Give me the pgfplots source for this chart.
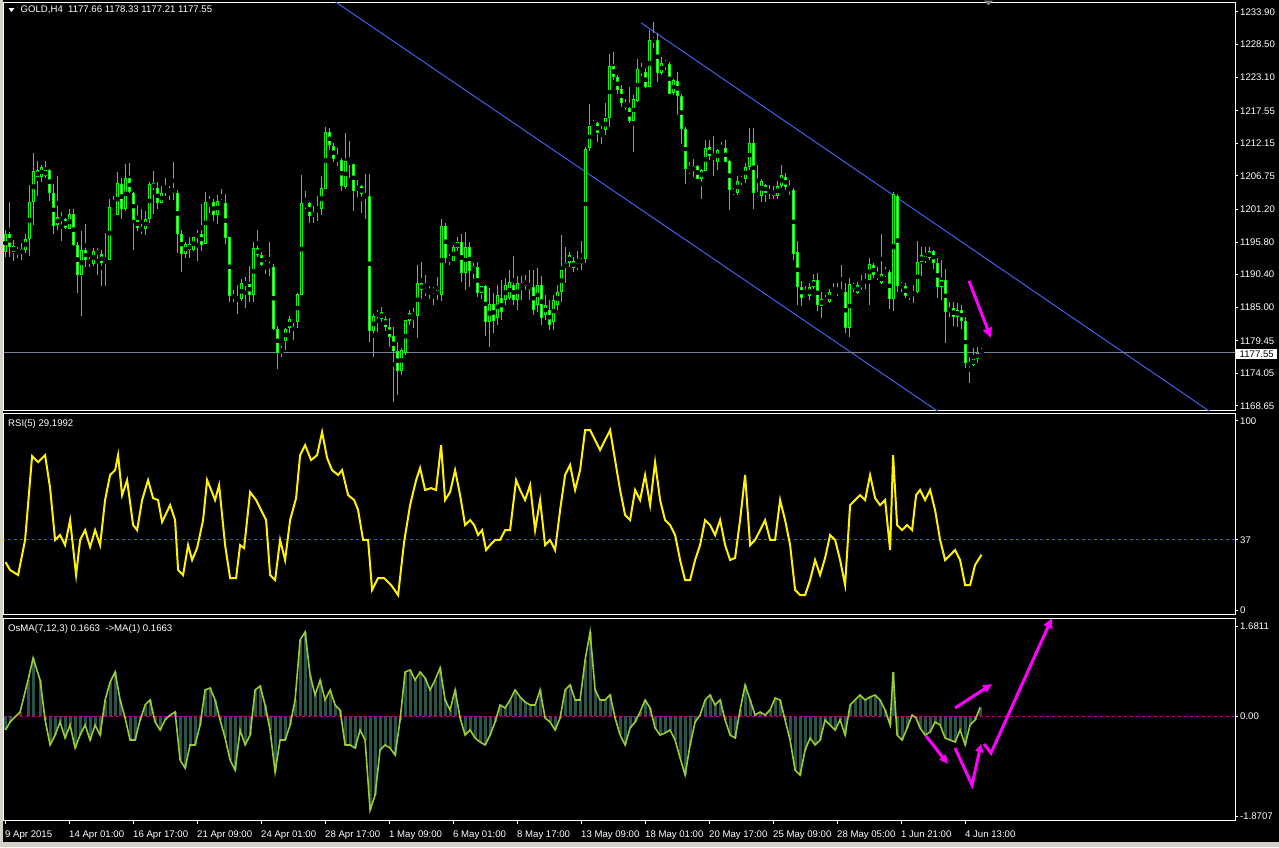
\documentclass[border=0pt]{standalone}
\usepackage{fontspec}
\setmainfont{Liberation Sans}
\usepackage{pgfplots}
\usepackage{pgfplotstable}
\pgfplotsset{compat=1.18}
\usetikzlibrary{arrows.meta}
\definecolor{cgreen}{RGB}{0,255,0}
\definecolor{chist}{RGB}{40,84,72}
\definecolor{cosma}{RGB}{154,205,50}
\definecolor{cbid}{RGB}{122,134,150}
\definecolor{cchan}{RGB}{65,95,235}
\definecolor{clvl}{RGB}{70,70,255}
\definecolor{czero}{RGB}{170,0,170}
\definecolor{cmag}{RGB}{255,0,255}
\definecolor{cframe}{RGB}{212,208,200}
\newcommand\mt{\fontsize{9.6}{11}\selectfont}

\pgfplotstableread{
i o h l c
0 1194.2 1197.8 1193.4 1197.1
1 1197.2 1202.4 1193.3 1195.0
2 1195.1 1196.1 1192.6 1194.2
3 1194.4 1195.0 1193.2 1194.2
4 1193.8 1195.6 1192.9 1194.6
5 1194.5 1197.2 1194.0 1196.3
6 1196.3 1205.3 1193.5 1202.5
7 1202.5 1210.5 1198.7 1207.5
8 1206.5 1209.2 1203.4 1207.7
9 1206.6 1208.6 1205.8 1208.2
10 1207.7 1209.2 1206.4 1206.7
11 1207.7 1207.9 1202.6 1203.9
12 1203.9 1205.4 1197.1 1198.4
13 1198.6 1206.7 1197.8 1200.0
14 1200.0 1200.7 1196.0 1199.3
15 1199.6 1199.8 1198.0 1198.2
16 1198.0 1201.3 1198.0 1200.4
17 1200.4 1201.3 1195.1 1195.3
18 1195.4 1195.8 1187.3 1190.4
19 1190.4 1197.6 1183.6 1194.4
20 1194.4 1198.8 1191.7 1192.9
21 1193.0 1193.4 1191.6 1192.3
22 1192.2 1194.8 1191.9 1194.3
23 1194.4 1194.8 1190.4 1193.7
24 1193.8 1194.5 1188.6 1192.3
25 1192.3 1197.3 1188.6 1192.9
26 1192.9 1202.9 1192.8 1201.6
27 1201.6 1203.4 1201.5 1202.2
28 1200.3 1207.4 1200.3 1205.5
29 1205.5 1206.4 1199.6 1201.2
30 1201.2 1208.7 1201.0 1206.4
31 1206.4 1208.9 1204.0 1204.1
32 1204.0 1204.1 1194.4 1199.5
33 1199.5 1201.9 1197.7 1198.1
34 1198.0 1201.2 1197.1 1197.9
35 1197.9 1200.9 1197.0 1199.7
36 1199.7 1205.8 1199.0 1205.5
37 1205.5 1207.6 1200.5 1204.7
38 1204.7 1205.8 1201.2 1202.2
39 1202.2 1205.0 1202.2 1203.9
40 1204.2 1206.4 1203.4 1204.4
41 1204.1 1205.1 1202.7 1204.7
42 1204.7 1209.1 1202.8 1204.0
43 1204.0 1204.5 1194.0 1197.1
44 1197.1 1197.8 1190.9 1193.8
45 1193.8 1195.8 1193.1 1195.5
46 1195.4 1196.7 1193.1 1194.5
47 1194.5 1196.7 1194.3 1196.6
48 1196.6 1197.8 1192.7 1197.2
49 1197.2 1202.1 1194.3 1195.4
50 1195.5 1204.1 1195.5 1202.5
51 1202.3 1203.5 1200.6 1202.7
52 1202.4 1202.9 1199.3 1200.3
53 1200.3 1203.6 1198.8 1202.6
54 1202.6 1204.6 1202.1 1202.2
55 1202.2 1203.8 1195.5 1196.5
56 1196.6 1196.7 1185.8 1186.8
57 1186.9 1187.9 1185.8 1186.6
58 1186.6 1188.7 1183.9 1186.3
59 1186.3 1189.7 1186.1 1189.0
60 1189.0 1190.0 1184.9 1188.9
61 1188.9 1191.8 1185.8 1187.1
62 1187.1 1195.8 1185.9 1194.8
63 1194.8 1197.8 1193.4 1193.6
64 1193.6 1194.2 1191.8 1192.0
65 1192.3 1192.8 1190.5 1192.1
66 1192.1 1195.8 1190.1 1191.6
67 1191.6 1192.2 1181.2 1181.4
68 1181.4 1181.9 1174.8 1177.5
69 1177.5 1178.6 1176.8 1178.1
70 1179.5 1181.5 1177.9 1181.4
71 1181.5 1183.5 1180.8 1183.0
72 1182.5 1183.3 1179.5 1183.1
73 1182.5 1187.4 1181.5 1187.2
74 1187.0 1206.9 1187.0 1202.2
75 1202.2 1204.3 1201.3 1201.7
76 1202.2 1202.4 1198.9 1200.2
77 1200.0 1201.7 1199.0 1200.7
78 1200.7 1203.4 1199.3 1201.4
79 1201.3 1206.7 1200.2 1204.7
80 1204.6 1214.9 1204.6 1214.0
81 1214.0 1214.7 1211.1 1211.8
82 1211.7 1212.2 1209.0 1209.5
83 1209.5 1211.4 1208.4 1209.4
84 1209.4 1209.7 1204.2 1205.0
85 1205.0 1213.9 1204.6 1209.2
86 1209.2 1212.5 1206.4 1208.7
87 1208.7 1208.8 1201.0 1204.2
88 1204.6 1206.1 1203.2 1204.9
89 1205.0 1205.3 1200.6 1203.7
90 1203.7 1207.1 1199.6 1203.3
91 1203.4 1207.1 1179.3 1181.0
92 1181.0 1183.9 1176.7 1183.6
93 1183.5 1184.6 1180.9 1184.1
94 1184.2 1185.1 1182.5 1183.0
95 1183.1 1183.5 1181.1 1181.8
96 1181.8 1183.2 1178.5 1180.1
97 1180.2 1181.7 1169.4 1177.7
98 1177.8 1179.3 1170.4 1174.5
99 1174.5 1178.3 1173.7 1177.9
100 1177.5 1182.9 1177.1 1182.9
101 1182.8 1184.6 1182.1 1184.1
102 1184.1 1184.8 1181.6 1183.5
103 1183.5 1192.0 1180.0 1189.0
104 1189.0 1192.5 1186.4 1187.8
105 1187.8 1190.4 1186.8 1187.6
106 1187.6 1188.5 1186.4 1187.8
107 1187.8 1188.3 1185.3 1187.6
108 1187.0 1190.0 1186.2 1187.8
109 1187.0 1199.6 1186.0 1198.5
110 1198.5 1199.0 1192.3 1193.2
111 1192.8 1193.8 1192.0 1193.3
112 1192.7 1195.3 1192.6 1195.0
113 1194.8 1196.7 1194.4 1195.8
114 1195.8 1197.1 1189.1 1190.7
115 1190.7 1197.5 1187.9 1195.0
116 1195.0 1195.8 1188.3 1191.0
117 1191.0 1192.3 1189.6 1191.8
118 1191.6 1192.5 1186.7 1187.3
119 1187.3 1188.6 1186.4 1188.6
120 1188.6 1188.7 1180.3 1182.5
121 1182.5 1188.2 1178.5 1185.5
122 1185.5 1187.4 1180.8 1182.8
123 1183.2 1188.7 1182.1 1187.0
124 1186.5 1189.5 1182.9 1184.2
125 1186.2 1189.9 1185.4 1188.7
126 1186.5 1191.2 1186.2 1189.2
127 1188.7 1193.5 1185.4 1186.2
128 1186.2 1190.2 1184.6 1189.0
129 1189.0 1190.2 1186.2 1188.2
130 1188.5 1190.4 1187.9 1189.4
131 1188.7 1191.2 1186.2 1187.9
132 1188.4 1191.2 1183.7 1184.6
133 1185.4 1191.5 1184.2 1188.7
134 1188.7 1190.2 1182.1 1183.2
135 1183.7 1187.0 1182.9 1185.4
136 1184.6 1186.2 1181.2 1182.1
137 1182.6 1187.0 1181.2 1186.2
138 1185.4 1188.7 1184.6 1187.5
139 1187.6 1197.0 1185.8 1191.2
140 1191.5 1195.0 1189.0 1192.3
141 1192.3 1194.2 1191.7 1193.7
142 1192.6 1193.4 1190.9 1191.5
143 1191.5 1194.3 1191.1 1192.3
144 1192.2 1196.0 1191.1 1193.0
145 1193.0 1211.6 1192.4 1211.2
146 1211.3 1218.7 1210.9 1215.1
147 1215.0 1216.0 1214.9 1215.5
148 1215.5 1215.7 1212.4 1213.8
149 1213.7 1215.0 1212.1 1214.4
150 1214.3 1218.9 1213.5 1216.3
151 1216.3 1227.0 1214.9 1225.0
152 1225.0 1227.2 1222.6 1223.1
153 1223.1 1223.5 1220.3 1220.9
154 1221.1 1221.8 1218.2 1218.9
155 1218.9 1219.5 1217.7 1218.0
156 1218.0 1221.5 1215.5 1215.9
157 1215.9 1220.1 1210.8 1219.5
158 1219.2 1226.1 1219.0 1224.4
159 1224.4 1225.5 1223.3 1223.9
160 1223.9 1224.6 1221.3 1221.5
161 1221.5 1230.9 1221.5 1229.3
162 1229.3 1232.3 1227.9 1229.1
163 1229.2 1230.4 1222.3 1223.8
164 1223.8 1226.4 1223.5 1225.5
165 1225.5 1226.0 1224.3 1225.2
166 1225.3 1225.6 1220.3 1220.4
167 1220.4 1222.8 1220.2 1222.6
168 1222.5 1223.9 1216.9 1220.0
169 1220.0 1220.3 1212.1 1214.5
170 1214.5 1214.8 1205.4 1207.9
171 1207.9 1209.1 1207.1 1207.5
172 1207.5 1209.5 1206.6 1208.4
173 1208.4 1208.5 1206.3 1206.3
174 1206.3 1207.9 1202.9 1207.7
175 1207.6 1212.7 1207.5 1211.4
176 1211.5 1212.7 1209.4 1210.0
177 1210.0 1213.4 1206.8 1209.5
178 1209.1 1211.2 1207.7 1211.1
179 1210.9 1212.3 1210.8 1211.4
180 1211.4 1212.7 1209.0 1209.1
181 1209.2 1209.4 1201.1 1204.4
182 1204.5 1204.7 1203.6 1203.9
183 1204.0 1206.7 1203.6 1205.9
184 1206.0 1206.7 1205.3 1206.4
185 1206.3 1208.9 1205.5 1208.2
186 1208.2 1214.7 1207.7 1212.2
187 1212.2 1214.7 1201.2 1204.0
188 1204.0 1208.6 1203.3 1203.5
189 1203.5 1206.2 1202.5 1205.9
190 1205.2 1205.4 1202.5 1204.0
191 1204.0 1205.3 1203.0 1204.3
192 1204.3 1205.0 1202.9 1203.5
193 1203.5 1205.9 1202.9 1205.1
194 1205.1 1208.5 1204.7 1206.9
195 1206.5 1207.3 1204.4 1204.9
196 1204.9 1206.1 1203.6 1204.3
197 1204.4 1204.7 1192.9 1193.9
198 1194.1 1196.0 1185.4 1188.3
199 1188.4 1189.3 1185.3 1186.6
200 1186.6 1188.6 1186.5 1186.9
201 1186.8 1189.1 1186.2 1188.4
202 1188.3 1190.5 1188.1 1189.5
203 1189.5 1190.7 1184.4 1185.3
204 1185.3 1187.5 1183.3 1186.3
205 1186.4 1187.0 1185.7 1185.9
206 1185.9 1188.0 1185.7 1187.5
207 1187.1 1189.1 1186.8 1187.6
208 1187.4 1189.0 1186.9 1187.8
209 1187.8 1192.0 1187.3 1187.4
210 1187.5 1189.0 1180.7 1181.5
211 1181.5 1189.8 1180.1 1188.9
212 1188.9 1189.1 1187.6 1188.0
213 1187.3 1189.2 1187.2 1188.7
214 1188.6 1190.4 1187.8 1188.8
215 1188.9 1190.6 1188.1 1189.6
216 1189.6 1193.2 1185.4 1192.2
217 1192.0 1192.3 1189.8 1190.3
218 1190.3 1191.6 1189.5 1190.1
219 1189.0 1197.1 1188.9 1190.5
220 1190.4 1191.7 1190.1 1190.8
221 1190.8 1191.2 1184.7 1186.3
222 1186.3 1204.1 1184.3 1203.8
223 1203.5 1203.8 1187.5 1188.6
224 1188.4 1189.2 1187.6 1188.9
225 1188.6 1189.1 1186.6 1186.9
226 1186.8 1187.6 1186.2 1187.3
227 1187.1 1188.7 1185.7 1187.6
228 1187.6 1196.0 1187.3 1192.5
229 1192.5 1195.0 1190.2 1193.6
230 1193.5 1194.9 1192.4 1192.6
231 1193.1 1195.0 1192.8 1194.3
232 1194.3 1194.5 1191.3 1192.3
233 1192.3 1193.1 1186.5 1188.3
234 1188.3 1192.9 1186.2 1189.5
235 1189.5 1191.3 1179.0 1184.3
236 1184.3 1185.8 1183.4 1184.8
237 1184.8 1185.8 1181.9 1183.4
238 1183.4 1185.7 1181.8 1184.6
239 1184.6 1185.3 1181.4 1182.8
240 1182.8 1183.4 1174.9 1175.7
241 1175.7 1176.8 1172.5 1175.5
242 1175.5 1178.3 1175.2 1176.4
243 1176.4 1178.4 1175.8 1177.4
244 1177.66 1178.33 1177.21 1177.55
}\candles

\pgfplotstableread{
i v
0 25.3
1.15 21.1
3.15 18.5
4.9 37.0
6.65 81.3
8.15 78.1
9.9 81.8
11.15 64.4
12.4 37.0
13.65 39.6
14.9 34.3
16.15 47.5
17.65 18.5
18.65 37.0
19.9 42.2
21.15 33.3
22.4 42.2
23.65 34.3
24.9 58.1
26.15 71.3
27.4 73.9
28.15 81.8
29.15 60.7
30.4 68.6
31.9 44.9
32.9 42.2
34.15 58.1
35.65 68.6
36.9 59.1
38.15 58.1
39.15 46.5
41.15 55.4
42.4 47.5
43.15 21.1
44.4 18.5
45.65 34.3
46.65 26.4
47.9 32.7
49.4 47.5
50.4 68.6
51.4 63.4
52.4 58.1
53.4 66.0
54.9 34.3
56.15 16.9
57.65 16.9
58.65 34.3
59.65 32.7
61.15 62.3
62.65 58.1
64.15 51.7
65.15 47.5
66.15 18.5
67.4 15.8
68.65 37.0
69.9 26.4
71.15 47.5
72.65 59.1
73.65 81.8
74.9 87.1
76.4 79.2
77.9 81.8
79.15 94.0
80.4 80.3
81.65 73.9
83.15 71.3
84.15 73.9
85.65 60.7
87.15 58.1
88.15 52.8
89.4 37.0
90.65 37.0
91.65 10.6
93.15 16.9
94.65 16.9
96.4 13.2
98.15 7.9
99.65 35.9
101.15 55.4
102.65 68.6
103.65 75.0
104.9 63.4
106.4 64.4
107.65 63.4
108.9 87.1
109.9 58.1
111.15 62.3
112.4 73.9
113.65 60.7
114.9 44.9
116.15 47.5
117.15 44.9
118.15 39.6
119.15 42.2
120.15 31.7
121.15 34.3
122.4 37.0
123.65 37.0
124.9 42.2
126.15 42.2
127.65 68.6
128.65 63.4
129.9 58.1
131.15 66.0
132.4 42.2
133.65 58.1
134.9 34.3
136.15 37.0
137.4 31.7
138.65 52.8
139.9 71.3
141.15 76.6
142.4 63.4
143.65 73.9
144.9 95.0
146.15 95.0
147.4 89.8
148.65 84.5
149.9 89.8
151.15 95.0
152.4 79.2
153.65 63.4
154.9 50.2
156.15 47.5
157.4 63.4
158.65 58.1
159.9 71.3
161.15 55.4
162.4 78.1
163.65 58.1
164.9 47.5
166.15 44.9
167.4 39.6
168.65 26.4
169.9 15.8
171.15 15.8
172.4 26.4
173.65 34.3
174.9 47.5
176.15 44.9
177.4 39.6
178.65 47.5
179.9 34.3
181.15 26.4
182.4 27.5
183.65 47.5
184.9 71.3
186.15 34.3
187.4 37.0
188.65 42.2
189.9 47.5
191.15 37.0
192.4 37.0
193.65 58.1
194.9 47.5
196.15 34.3
197.4 10.6
198.65 7.9
199.9 7.9
201.15 15.8
202.4 26.4
203.65 18.5
204.9 27.5
206.15 39.6
207.4 37.0
208.65 26.4
209.9 13.2
211.15 55.4
212.4 58.1
213.65 60.7
214.9 58.1
216.15 71.3
217.4 59.1
218.65 55.4
219.9 58.1
221.15 31.7
221.9 81.8
222.9 44.9
224.15 42.2
225.4 44.9
226.65 42.2
227.65 60.7
228.65 63.4
229.9 58.1
231.15 63.4
232.4 52.8
233.65 37.0
234.9 26.4
236.15 29.0
237.4 31.7
238.65 26.4
239.9 13.2
241.15 13.2
242.4 23.8
243.65 28.0
244 29.2
}\rsi

\pgfplotstableread{
i v
0 -0.257
1.15 -0.107
3.65 0.081
5.65 0.681
6.9 1.094
8.65 0.681
9.9 -0.069
11.15 -0.538
12.4 -0.351
13.65 -0.107
14.9 -0.407
16.15 -0.163
17.4 -0.595
18.65 -0.351
19.9 -0.163
21.15 -0.445
22.4 -0.163
23.65 -0.351
24.9 0.306
26.15 0.643
27.4 0.831
28.65 0.306
29.9 -0.032
31.15 -0.445
32.4 -0.445
33.65 -0.069
34.9 0.212
36.15 0.306
37.4 -0.107
38.65 -0.257
39.9 -0.069
41.15 0.024
42.4 0.081
43.65 -0.820
44.9 -0.970
46.15 -0.538
47.4 -0.538
48.65 -0.163
49.9 0.494
51.15 0.531
52.4 0.306
53.65 -0.069
54.9 -0.407
56.15 -0.820
57.4 -1.007
58.65 -0.257
59.9 -0.538
61.15 -0.351
62.4 0.494
63.65 0.568
64.9 0.212
66.15 -0.257
67.4 -1.045
68.65 -0.445
69.9 -0.445
71.15 -0.163
72.4 0.306
73.65 1.431
74.9 1.581
76.15 0.775
77.4 0.400
78.65 0.681
79.9 0.306
81.15 0.494
82.4 0.212
83.65 0.118
84.9 -0.538
86.15 -0.538
87.4 -0.595
88.65 -0.257
89.9 -0.445
91.15 -1.758
92.4 -1.476
93.65 -0.632
94.9 -0.538
96.15 -0.595
97.4 -0.726
98.65 -0.069
99.9 0.831
101.15 0.869
102.4 0.681
103.65 0.831
104.9 0.719
106.15 0.494
107.4 0.681
108.65 0.906
109.9 0.306
111.15 0.118
112.4 0.494
113.65 -0.032
114.9 -0.351
116.15 -0.257
117.4 -0.407
118.65 -0.482
119.9 -0.538
121.15 -0.351
122.4 -0.107
123.65 0.212
124.9 0.156
126.15 0.306
127.4 0.494
128.65 0.362
129.9 0.268
131.15 0.212
132.4 0.212
133.65 0.494
134.9 -0.032
136.15 -0.107
137.4 -0.257
138.65 -0.032
139.9 0.494
141.15 0.587
142.4 0.306
143.65 0.306
144.9 1.056
146.15 1.581
147.4 0.494
148.65 0.306
149.9 0.306
151.15 0.400
152.4 -0.032
153.65 -0.351
154.9 -0.538
156.15 -0.219
157.4 -0.107
158.65 0.081
159.9 0.306
161.15 0.156
162.4 -0.219
163.65 -0.351
164.9 -0.313
166.15 -0.257
167.4 -0.445
168.65 -0.782
169.9 -1.101
171.15 -0.538
172.4 -0.107
173.65 0.024
174.9 0.306
176.15 0.400
177.4 0.212
178.65 0.306
179.9 -0.069
181.15 -0.351
182.4 -0.407
183.65 0.118
184.9 0.587
186.15 0.306
187.4 0.024
188.65 0.081
189.9 0.024
191.15 0.118
192.4 0.343
193.65 0.306
194.9 -0.069
196.15 -0.445
197.4 -1.007
198.65 -1.101
199.9 -0.632
201.15 -0.407
202.4 -0.538
203.65 -0.445
204.9 -0.069
206.15 -0.163
207.4 -0.257
208.65 -0.069
209.9 -0.351
211.15 0.212
212.4 0.306
213.65 0.400
214.9 0.306
216.15 0.362
217.4 0.400
218.65 0.306
219.9 0.118
221.15 -0.163
221.9 0.831
222.9 -0.351
224.15 -0.445
225.4 -0.219
226.65 0.024
227.65 -0.032
228.65 -0.219
229.9 -0.351
231.15 -0.295
232.4 -0.107
233.65 -0.163
234.9 -0.407
236.15 -0.445
237.4 -0.482
238.65 -0.257
239.9 -0.538
241.15 -0.163
242.4 -0.069
243.65 0.166
}\osma

\pgfplotsset{mtpanel/.style={scale only axis, width=1232pt, xmin=-0.5, xmax=307.5,
  axis line style={white, line width=1pt}, tick style={white, line width=1pt},
  ytick pos=right, yticklabel pos=right, tick align=outside, major tick length=3pt,
  yticklabel style={white, font=\mt, anchor=west, xshift=0.5pt, inner sep=1pt},
  xtick=\empty, clip mode=individual, anchor=north west}}

\begin{document}
\begin{tikzpicture}
\useasboundingbox (0,0) rectangle (1279pt,-847pt);
\fill[black] (0,0) rectangle (1279pt,-847pt);
\fill[cframe] (0,0) rectangle (2.5pt,-847pt);
\fill[cframe] (0,-842pt) rectangle (1279pt,-847pt);

% ---------------- price panel
\begin{axis}[mtpanel, at={(3.5pt,-2.5pt)}, height=408pt, ymin=1167.90, ymax=1235.47,
  ytick={1233.90,1228.50,1223.10,1217.55,1212.15,1206.75,1201.20,1195.80,1190.40,1185.00,1179.45,1174.05,1168.65},
  yticklabels={1233.90,1228.50,1223.10,1217.55,1212.15,1206.75,1201.20,1195.80,1190.40,1185.00,1179.45,1174.05,1168.65}]
\addplot[cchan, line width=1pt] coordinates {(70,1241.2) (245,1162.4)};
\addplot[cchan, line width=1pt] coordinates {(158.9,1232.1) (310,1163.7)};
\addplot[cbid, line width=1pt] coordinates {(-1,1177.55) (310,1177.55)};
% wicks
\addplot[only marks, mark=none, error bars/.cd, y dir=both, y explicit, error mark=none,
  error bar style={draw=cgreen, line width=1pt}]
  table[x=i, y expr={(\thisrow{h}+\thisrow{l})/2}, y error expr={(\thisrow{h}-\thisrow{l})/2}] {\candles};
% bodies
\addplot[only marks, mark=none, error bars/.cd, y dir=both, y explicit, error mark=none,
  error bar style={draw=cgreen, line width=3pt}]
  table[x=i, y expr={(\thisrow{o}+\thisrow{c})/2}, y error expr={max(abs(\thisrow{o}-\thisrow{c})/2,0.083)}] {\candles};
% bear interiors (white)
\addplot[only marks, mark=none, error bars/.cd, y dir=both, y explicit, error mark=none,
  error bar style={draw=white, line width=1pt}]
  table[x=i, y expr={(\thisrow{o}+\thisrow{c})/2}, y error expr={(\thisrow{o}>\thisrow{c}) ? max((\thisrow{o}-\thisrow{c})/2-0.166,0) : 0}] {\candles};
% bull interiors (black)
\addplot[only marks, mark=none, error bars/.cd, y dir=both, y explicit, error mark=none,
  error bar style={draw=black, line width=1pt}]
  table[x=i, y expr={(\thisrow{o}+\thisrow{c})/2}, y error expr={(\thisrow{c}>\thisrow{o}) ? max((\thisrow{c}-\thisrow{o})/2-0.166,0) : 0}] {\candles};
\end{axis}

% ---------------- RSI panel
\begin{axis}[mtpanel, at={(3.5pt,-413.5pt)}, height=201pt, ymin=-2.38, ymax=103.80,
  ytick={0,37,100}, yticklabels={0,37,100}]
\addplot[clvl, line width=1pt, dash pattern=on 3pt off 3pt] coordinates {(-1,37) (310,37)};
\addplot[yellow, line width=2pt] table[x=i, y=v] {\rsi};
\end{axis}

% ---------------- OsMA panel
\begin{axis}[mtpanel, at={(3.5pt,-618.5pt)}, height=202pt, ymin=-1.9542, ymax=1.8342,
  ytick={-1.8707,0,1.6811}, yticklabels={-1.8707,0.00,1.6811},
  xtick={0,16,...,240},
  xticklabels={9 Apr 2015,14 Apr 01:00,16 Apr 17:00,21 Apr 09:00,24 Apr 01:00,28 Apr 17:00,1 May 09:00,6 May 01:00,8 May 17:00,13 May 09:00,18 May 01:00,20 May 17:00,25 May 09:00,28 May 05:00,1 Jun 21:00,4 Jun 13:00},
  xtick pos=left, xticklabel style={white, font=\mt, anchor=north west, xshift=-1.5pt, yshift=-6pt, inner sep=1pt}]
\addplot[chist, ycomb, line width=3pt] table[x=i, y=v] {\osma};
\addplot[czero, line width=1pt, dash pattern=on 3pt off 3pt] coordinates {(-1,0) (310,0)};
\addplot[cosma, line width=1.6pt] table[x=i, y=v] {\osma};
\end{axis}

% ---------------- texts and annotations
\fill[white] (8.5pt,-8pt) -- (14.5pt,-8pt) -- (11.5pt,-12pt) -- cycle;
\fill[gray] (984pt,-0.5pt) -- (993pt,-0.5pt) -- (988.5pt,-5.5pt) -- cycle;
\node[anchor=base west, inner sep=0, text=white, font=\mt] at (20.5pt,-12.7pt) {GOLD,H4\ \ 1177.66 1178.33 1177.21 1177.55};
\node[anchor=base west, inner sep=0, text=white, font=\mt] at (8pt,-426.3pt) {RSI(5) 29.1992};
\node[anchor=base west, inner sep=0, text=white, font=\mt] at (8pt,-631.7pt) {OsMA(7,12,3) 0.1663\ \ ->MA(1) 0.1663};
\node[anchor=west, fill=white, text=black, font=\mt, inner xsep=3.5pt, inner ysep=1.4pt, text height=6.8pt, text depth=0pt] at (1236pt,-354pt) {1177.55};

\draw[cmag, line width=3pt, -{Triangle[length=10pt,width=9pt]}] (969pt,-281pt) -- (991pt,-338pt);
\draw[cmag, line width=3pt, -{Triangle[length=9pt,width=8pt]}] (955pt,-708pt) -- (992pt,-684pt);
\draw[cmag, line width=3pt, -{Triangle[length=9pt,width=8pt]}] (926pt,-736pt) -- (948pt,-764pt);
\draw[cmag, line width=3pt, -{Triangle[length=8pt,width=8pt]}] (955pt,-748pt) -- (972pt,-785pt) -- (981pt,-744pt);
\draw[cmag, line width=3pt, -{Triangle[length=10pt,width=9pt]}] (984pt,-744pt) -- (991pt,-753pt) -- (1052pt,-618pt);
\end{tikzpicture}
\end{document}
